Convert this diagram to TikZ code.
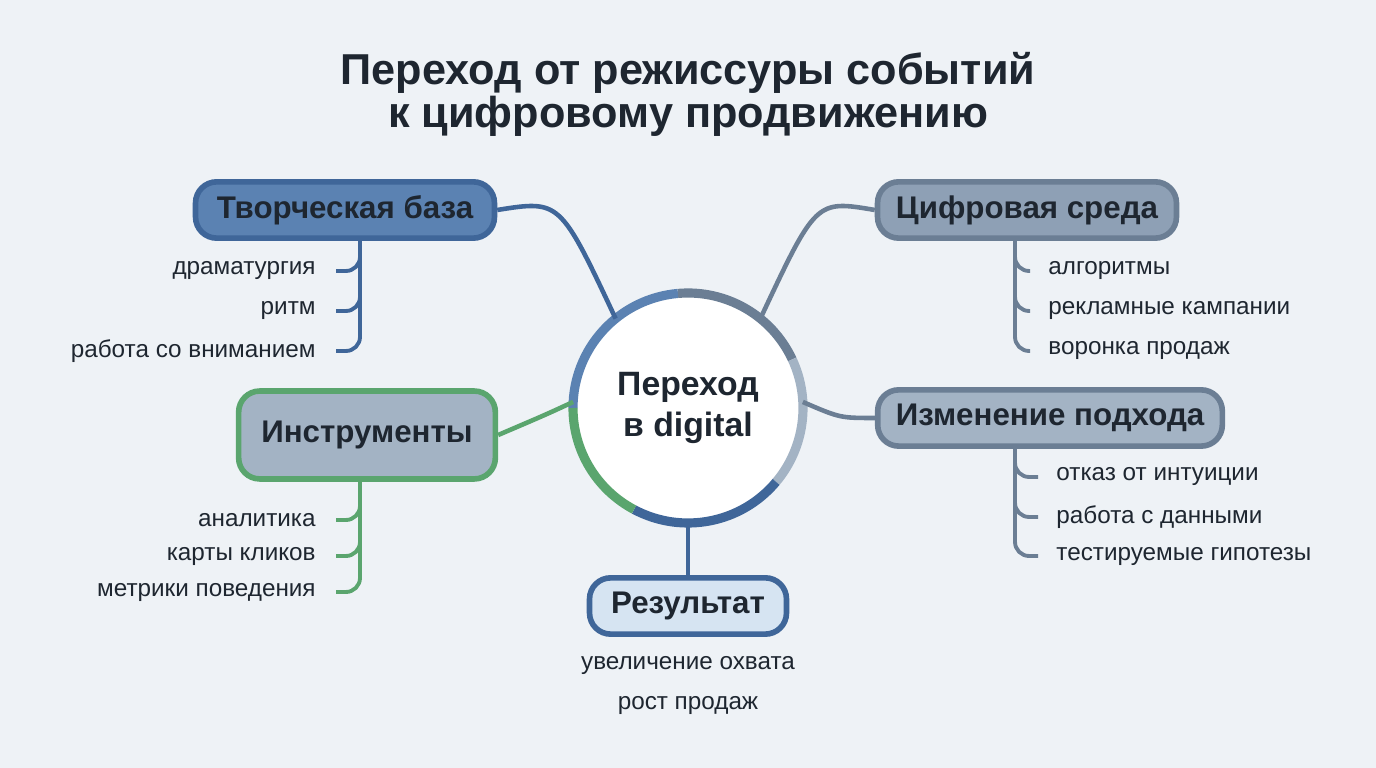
\documentclass[tikz,border=0pt]{standalone}
\usepackage{fontspec}
\setmainfont{Liberation Sans}
\usetikzlibrary{calc}
\definecolor{bgc}{HTML}{EEF2F6}
\definecolor{blueD}{HTML}{3F6699}
\definecolor{blueF}{HTML}{5B82B2}
\definecolor{grayD}{HTML}{6B7E94}
\definecolor{grayF}{HTML}{8EA0B5}
\definecolor{grayL}{HTML}{A3B3C4}
\definecolor{greenD}{HTML}{5AA56E}
\definecolor{resF}{HTML}{D6E4F2}
\definecolor{txt}{HTML}{1E2630}

\tikzset{
    topic/.style={draw, line width=1.6pt, rounded corners=6pt, minimum height=16pt,
        font=\fontsize{8.9}{10}\selectfont\bfseries, text=txt, inner xsep=4pt},
    item/.style={font=\fontsize{6.9}{8}\selectfont, text=txt},
    link/.style={line width=1.3pt},
    hook/.style={line width=1.1pt, rounded corners=4pt}
}

\begin{document}
\begin{tikzpicture}[x=0.01cm, y=-0.01cm]
        \fill[bgc] (0,0) rectangle (1376,768);
        \useasboundingbox (0,0) rectangle (1376,768);

        \node[font=\fontsize{12.3}{12.2}\selectfont\bfseries, text=txt, align=center] (title) at (688,94)
            {Переход от режиссуры событий\\к цифровому продвижению};

        % central ring (y points down, so angles are mirrored)
        \coordinate (c) at (688,408);
        \fill[white] (c) circle (115);
        \draw[blueF, line width=2.6pt] ([shift={(-180:115)}]c) arc[start angle=-180, end angle=-95, radius=115];
        \draw[grayD, line width=2.6pt] ([shift={(-95:115)}]c) arc[start angle=-95, end angle=-25, radius=115];
        \draw[grayL, line width=2.6pt] ([shift={(-25:115)}]c) arc[start angle=-25, end angle=40, radius=115];
        \draw[blueD, line width=2.6pt] ([shift={(40:115)}]c) arc[start angle=40, end angle=118, radius=115];
        \draw[greenD, line width=2.6pt] ([shift={(118:115)}]c) arc[start angle=118, end angle=180, radius=115];
        \node[font=\fontsize{9.6}{11.5}\selectfont\bfseries, text=txt, align=center] (hub) at (c) {Переход\\в digital};

        \node[topic, fill=blueF, draw=blueD, minimum width=85pt] (base) at (345,210) {Творческая база};
        \node[topic, fill=grayF, draw=grayD, minimum width=85pt] (digi) at (1027,210) {Цифровая среда};
        \node[topic, fill=grayL, draw=greenD, minimum width=73pt, minimum height=25pt] (tool) at (367,435) {Инструменты};
        \node[topic, fill=grayL, draw=grayD, minimum width=98pt] (appr) at (1050,418) {Изменение подхода};
        \node[topic, fill=resF, draw=blueD, minimum width=56pt] (res) at (688,606) {Результат};

        \draw[link, blueD] (base.east) .. controls (560,200) .. ([shift={(-129:115)}]c);
        \draw[link, grayD] (digi.west) .. controls (816,200) .. ([shift={(-51:115)}]c);
        \draw[link, greenD] (tool.east) .. controls (545,415) .. ([shift={(-177:115)}]c);
        \draw[link, grayD] (appr.west) .. controls (840,418) .. ([shift={(-3:115)}]c);
        \draw[link, blueD] (hub.center |- 0,523) -- (res.north);

        % left lists
        \foreach \t/\y in {драматургия/271, ритм/311, работа со вниманием/351}{
            \node[item, anchor=east] at (328,\y) {\t};
            \draw[hook, blueD] (360,241) |- (336,\y);
        }
        \foreach \t/\y in {аналитика/520, карты кликов/556, метрики поведения/592}{
            \node[item, anchor=east] at (328,\y) {\t};
            \draw[hook, greenD] (360,481) |- (336,\y);
        }
        % right lists
        \foreach \t/\y in {алгоритмы/271, рекламные кампании/311, воронка продаж/351}{
            \node[item, anchor=west] at (1036,\y) {\t};
            \draw[hook, grayD] (1015,241) |- (1030,\y);
        }
        \foreach \t/\y in {отказ от интуиции/477, работа с данными/517, тестируемые гипотезы/556}{
            \node[item, anchor=west] at (1044,\y) {\t};
            \draw[hook, grayD] (1015,448) |- (1038,\y);
        }
        \node[item] (r1) at (688,665) {увеличение охвата};
        \node[item] (r2) at (688,705) {рост продаж};
\end{tikzpicture}
\end{document}
